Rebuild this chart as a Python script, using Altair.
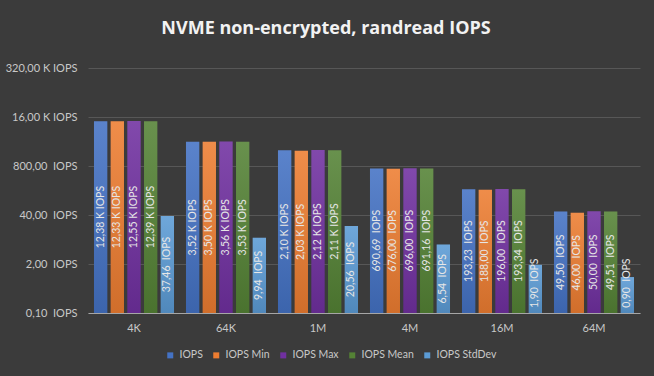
import altair as alt
import pandas as pd

groups = ["4K", "64K", "1M", "4M", "16M", "64M"]
series = ["IOPS", "IOPS Min", "IOPS Max", "IOPS Mean", "IOPS StdDev"]
colors = ["#4472C4", "#ED7D31", "#7030A0", "#548235", "#5B9BD5"]

iops = [12380, 3520, 2100, 690.69, 193.23, 49.50]
iops_min = [12330, 3500, 2030, 676.00, 188.00, 46.00]
iops_max = [12550, 3560, 2120, 696.00, 196.00, 50.00]
iops_mean = [12390, 3530, 2110, 691.16, 193.34, 49.51]
iops_std = [37.46, 9.94, 20.56, 6.54, 1.90, 0.90]

NB = "\u00a0 "
lbl_iops = ["12,38 K IOPS", "3,52 K IOPS", "2,10 K IOPS", f"690,69{NB}IOPS", f"193,23{NB}IOPS", f"49,50{NB}IOPS"]
lbl_min = ["12,33 K IOPS", "3,50 K IOPS", "2,03 K IOPS", f"676,00{NB}IOPS", f"188,00{NB}IOPS", f"46,00{NB}IOPS"]
lbl_max = ["12,55 K IOPS", "3,56 K IOPS", "2,12 K IOPS", f"696,00{NB}IOPS", f"196,00{NB}IOPS", f"50,00{NB}IOPS"]
lbl_mean = ["12,39 K IOPS", "3,53 K IOPS", "2,11 K IOPS", f"691,16{NB}IOPS", f"193,34{NB}IOPS", f"49,51{NB}IOPS"]
lbl_std = [f"37,46{NB}IOPS", f"9,94{NB}IOPS", f"20,56{NB}IOPS", f"6,54{NB}IOPS", f"1,90{NB}IOPS", f"0,90{NB}IOPS"]

ytick_values = [0.1, 2, 40, 800, 16000, 320000]
ytick_labels = [f"0,10{NB}IOPS", f"2,00{NB}IOPS", f"40,00{NB}IOPS", f"800,00{NB}IOPS",
                "16,00 K IOPS", "320,00 K IOPS"]

rows = []
for s, vals, lbls in zip(series, [iops, iops_min, iops_max, iops_mean, iops_std],
                         [lbl_iops, lbl_min, lbl_max, lbl_mean, lbl_std]):
    for g, v, l in zip(groups, vals, lbls):
        rows.append({"group": g, "series": s, "value": v, "label": l})
df = pd.DataFrame(rows)

label_expr = " : ".join(
    f"datum.value == {v} ? '{l}'" for v, l in zip(ytick_values, ytick_labels)
) + " : ''"

x_enc = alt.X("group:N", sort=groups, title=None,
              scale=alt.Scale(paddingInner=0.13, paddingOuter=0.065),
              axis=alt.Axis(labelAngle=0, ticks=False, domainColor="#a6a6a6",
                            labelColor="#c8c8c8", labelFontSize=11, labelFont="Lato",
                            labelPadding=9, grid=False))
xoff_enc = alt.XOffset("series:N", sort=series,
                       scale=alt.Scale(domain=series, paddingInner=0.2, paddingOuter=0))
y_scale = alt.Scale(type="log", base=20, domain=[0.1, 320000], nice=False)

base = alt.Chart(df)

bars = base.mark_bar().encode(
    x=x_enc,
    xOffset=xoff_enc,
    y=alt.Y("value:Q", scale=y_scale, title=None,
            axis=alt.Axis(values=ytick_values, labelExpr=label_expr, ticks=False,
                          domain=False, gridColor="#575757", gridWidth=1,
                          labelColor="#c8c8c8", labelFontSize=11, labelFont="Lato",
                          labelPadding=11)),
    y2=alt.datum(0.1),
    color=alt.Color("series:N", sort=series,
                    scale=alt.Scale(domain=series, range=colors),
                    legend=alt.Legend(title=None, orient="none", direction="horizontal",
                                      legendX=77, legendY=282, symbolType="square",
                                      symbolSize=36, symbolStrokeWidth=0,
                                      labelColor="#c8c8c8", labelFontSize=10.5,
                                      labelFont="Lato", columnPadding=8,
                                      labelOffset=4, padding=0)),
)

shade = base.mark_bar(
    fill=alt.LinearGradient(
        gradient="linear", x1=0, y1=0, x2=0, y2=1,
        stops=[alt.GradientStop(color="#ffffff", offset=0),
               alt.GradientStop(color="#808080", offset=0.5),
               alt.GradientStop(color="#000000", offset=1)]
    ),
    opacity=0.12,
).encode(
    x=alt.X("group:N", sort=groups),
    xOffset=xoff_enc,
    y=alt.Y("value:Q", scale=y_scale),
    y2=alt.datum(0.1),
)

texts = base.transform_calculate(
    mid="max(sqrt(datum.value * 0.1), 0.62)"
).mark_text(angle=270, color="#e6e6e6", fontSize=10.5, font="Lato", baseline="middle",
            align="center").encode(
    x=alt.X("group:N", sort=groups),
    xOffset=xoff_enc,
    y=alt.Y("mid:Q", scale=y_scale),
    text="label:N",
)

chart = alt.layer(bars, shade, texts).properties(
    width=552, height=245,
    background="#3b3b3b",
    padding={"left": 88, "top": 68, "right": 14, "bottom": 63},
    autosize=alt.AutoSizeParams(type="none"),
    title=alt.TitleParams("NVME non-encrypted, randread IOPS", fontSize=18,
                          fontWeight="bold", color="#f2f2f2", font="Open Sans",
                          anchor="middle", dx=-38, offset=24),
).configure_view(stroke=None)

chart.save("out.html", embed_options={"renderer": "svg", "actions": False})
